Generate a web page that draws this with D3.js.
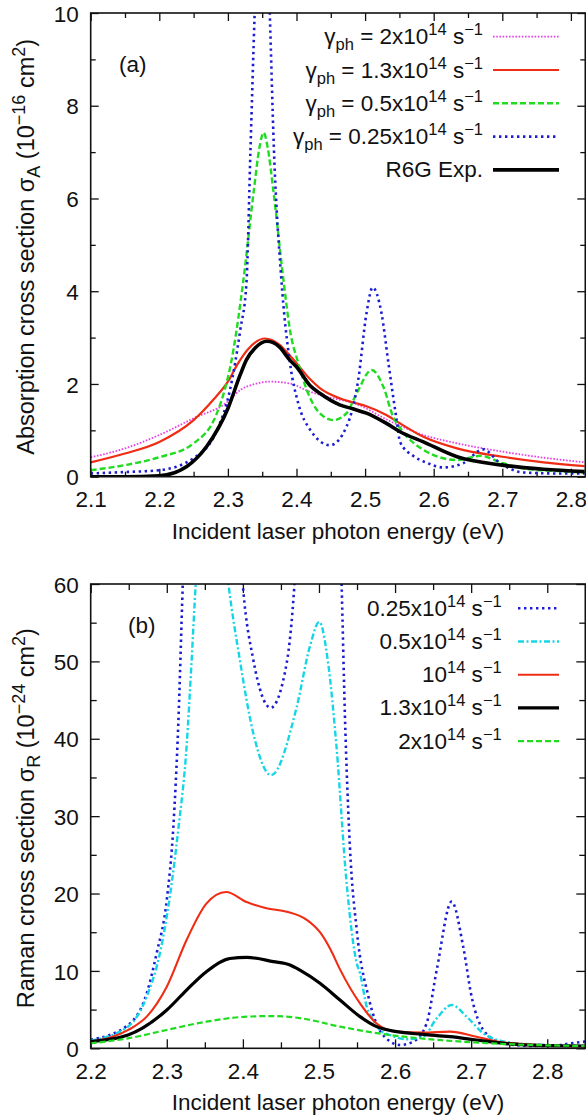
<!DOCTYPE html>
<html>
<head>
<meta charset="utf-8">
<script src="https://cdn.jsdelivr.net/npm/d3@7"></script>
<style>
  html, body { margin: 0; padding: 0; background: #fff; }
  svg { display: block; }
  text { font-family: "Liberation Sans", Arial, Helvetica, sans-serif; font-size: 22.5px; fill: #111; }
</style>
</head>
<body>
<svg id="fig" width="586" height="1119"></svg>
<script>
// ---------- Panel (a): absorption cross section (10^-16 cm^2) vs photon energy (eV) ----------
const absGamma2 = [[2.10,0.42],[2.15,0.61],[2.20,0.90],[2.25,1.26],[2.30,1.62],[2.318,1.87],[2.337,1.99],
  [2.361,2.05],[2.39,2.01],[2.42,1.83],[2.44,1.74],[2.49,1.55],[2.536,1.20],[2.585,0.90],[2.634,0.72],
  [2.70,0.54],[2.76,0.41],[2.82,0.31]];
const absGamma13 = [[2.10,0.31],[2.15,0.50],[2.20,0.75],[2.25,1.22],[2.28,1.68],[2.30,2.05],[2.315,2.45],
  [2.33,2.76],[2.354,2.98],[2.375,2.85],[2.39,2.62],[2.40,2.45],[2.42,2.10],[2.434,1.91],[2.463,1.69],
  [2.483,1.60],[2.502,1.52],[2.531,1.33],[2.551,1.15],[2.585,0.86],[2.634,0.61],[2.70,0.43],
  [2.76,0.31],[2.82,0.23]];
const absGamma05 = [[2.10,0.14],[2.15,0.25],[2.20,0.42],[2.25,0.72],[2.284,1.37],[2.308,2.73],[2.322,4.17],
  [2.338,6.2],[2.346,7.1],[2.352,7.42],[2.358,7.1],[2.366,6.2],[2.381,4.24],[2.3905,3.16],[2.4026,2.45],
  [2.415,1.87],[2.432,1.40],[2.4537,1.22],[2.473,1.37],[2.4878,1.80],[2.5096,2.30],[2.5266,1.94],
  [2.541,1.29],[2.551,1.05],[2.585,0.58],[2.634,0.36],[2.6675,0.45],[2.701,0.29],[2.73,0.18],
  [2.78,0.12],[2.82,0.09]];
const absGamma025 = [[2.10,0.07],[2.15,0.10],[2.20,0.14],[2.25,0.40],[2.284,1.0],[2.303,1.87],[2.318,3.16],
  [2.327,4.17],[2.333,7.1],[2.339,10.0],[2.345,12.5],[2.35,13.5],[2.355,12.5],[2.361,10.0],[2.367,7.1],
  [2.378,4.24],[2.3905,2.45],[2.4026,1.58],[2.42,1.01],[2.449,0.68],[2.473,1.08],[2.490,2.09],
  [2.502,3.52],[2.511,4.08],[2.524,3.52],[2.534,2.45],[2.546,1.22],[2.551,0.75],[2.57,0.45],
  [2.59,0.30],[2.614,0.20],[2.643,0.29],[2.672,0.59],[2.697,0.29],[2.731,0.09],[2.78,0.07],[2.82,0.07]];
const absR6G = [[2.10,0.0],[2.15,0.0],[2.20,0.02],[2.24,0.22],[2.269,0.65],[2.30,1.47],[2.318,2.20],
  [2.327,2.52],[2.34,2.78],[2.357,2.92],[2.375,2.80],[2.39,2.52],[2.40,2.37],[2.42,1.96],[2.434,1.80],
  [2.463,1.55],[2.483,1.46],[2.502,1.37],[2.531,1.15],[2.551,0.97],[2.585,0.75],[2.634,0.43],
  [2.70,0.25],[2.76,0.16],[2.82,0.11]];

// ---------- Panel (b): Raman cross section (10^-24 cm^2) vs photon energy (eV) ----------
const ramGamma025 = [[2.20,1.1],[2.249,3.0],[2.2736,7.1],[2.2867,12.3],[2.30,19.2],[2.3086,28.6],[2.315,41.6],
  [2.321,60],[2.33,85],[2.345,110],[2.36,115],[2.375,100],[2.39,75],[2.4005,59.2],[2.4137,50.2],
  [2.4365,44.0],[2.4576,49.8],[2.4676,59.7],[2.48,85],[2.50,100],[2.52,85],[2.5298,59.7],[2.534,43.3],
  [2.5407,26.0],[2.5496,15.3],[2.565,6.67],[2.582,2.0],[2.6065,0.43],[2.624,0.86],[2.6415,3.23],
  [2.6547,10.1],[2.6744,18.95],[2.6896,13.1],[2.7006,6.67],[2.716,2.37],[2.742,0.64],[2.78,0.3],
  [2.81,0.35],[2.83,0.64],[2.85,0.86]];
const ramGamma05 = [[2.20,1.0],[2.249,2.8],[2.2736,6.67],[2.291,12.3],[2.304,19.6],[2.315,28.2],[2.326,39.0],
  [2.3327,50.2],[2.338,59.9],[2.35,70],[2.36,73],[2.37,70],[2.381,60],[2.396,50.2],[2.4137,40.7],
  [2.437,35.3],[2.4707,44.1],[2.488,51.9],[2.5004,55.1],[2.512,49.8],[2.523,39.0],[2.536,21.7],
  [2.5496,11.0],[2.5539,9.7],[2.5627,5.38],[2.5713,3.66],[2.58,2.37],[2.593,1.72],[2.615,1.16],
  [2.637,1.5],[2.6547,3.87],[2.6744,5.6],[2.694,4.09],[2.716,1.94],[2.742,0.9],[2.78,0.5],[2.85,0.3]];
const ramGamma1 = [[2.20,0.86],[2.2494,2.37],[2.2736,4.09],[2.30,7.96],[2.326,14.0],[2.352,18.7],[2.378,20.2],
  [2.405,18.9],[2.431,18.1],[2.4576,17.65],[2.484,16.6],[2.5013,15.0],[2.515,12.8],[2.5276,10.2],
  [2.5539,5.8],[2.5758,3.2],[2.602,2.15],[2.637,2.02],[2.672,2.15],[2.707,1.5],[2.742,0.77],
  [2.80,0.4],[2.85,0.2]];
const ramGamma13 = [[2.20,0.86],[2.249,1.72],[2.30,4.95],[2.326,7.53],[2.352,9.9],[2.383,11.6],[2.405,11.75],
  [2.44,11.2],[2.4619,10.77],[2.475,10.1],[2.5013,8.4],[2.5276,6.24],[2.5539,4.09],[2.5758,2.8],
  [2.602,2.15],[2.637,1.8],[2.672,1.5],[2.707,1.07],[2.742,0.64],[2.80,0.35],[2.85,0.3]];
const ramGamma2 = [[2.20,0.64],[2.249,1.29],[2.30,2.37],[2.352,3.44],[2.405,4.09],[2.44,4.17],[2.475,3.9],
  [2.5276,2.8],[2.593,1.72],[2.659,1.07],[2.725,0.64],[2.85,0.3]];

// ---------- Tick values ----------
const xMajorA = [2.1, 2.2, 2.3, 2.4, 2.5, 2.6, 2.7, 2.8];
const xMinorA = [2.15, 2.25, 2.35, 2.45, 2.55, 2.65, 2.75];
const yMajorA = [0, 2, 4, 6, 8, 10];
const yMinorA = [1, 3, 5, 7, 9];
const xMajorB = [2.2, 2.3, 2.4, 2.5, 2.6, 2.7, 2.8];
const xMinorB = [2.25, 2.35, 2.45, 2.55, 2.65, 2.75];
const yMajorB = [0, 10, 20, 30, 40, 50, 60];
const yMinorB = [5, 15, 25, 35, 45, 55];

// ---------- Line styles ----------
const styles = {
  magenta: { stroke: "#e840e8", width: 1.8, dash: "1.6,1.6" },
  red:     { stroke: "#f02c14", width: 2.2, dash: null },
  green:   { stroke: "#20dc20", width: 2.4, dash: "6,3" },
  blue:    { stroke: "#1c1cd2", width: 2.6, dash: "2.4,3.6" },
  black:   { stroke: "#000000", width: 3.6, dash: null },
  cyan:    { stroke: "#16d6e6", width: 2.4, dash: "6,2.5,2,2.5" },
  red2:    { stroke: "#f02c14", width: 2.1, dash: null },
  black2:  { stroke: "#000000", width: 3.2, dash: null },
  green2:  { stroke: "#20dc20", width: 2.2, dash: "6,3" }
};

const svg = d3.select("#fig");
const defs = svg.append("defs");

// Writes a run of normal / subscript / superscript pieces into a text element.
function richText(textSel, parts, small) {
  let cur = 0;
  parts.forEach(([t, mode]) => {
    const target = mode === "sub" ? 6 : mode === "sup" ? -9 : 0;
    const ts = textSel.append("tspan").text(t).attr("dy", target - cur);
    if (mode !== "n") ts.style("font-size", (small || 16.5) + "px");
    cur = target;
  });
}

function drawPanel(cfg) {
  const g = svg.append("g");
  const x = d3.scaleLinear().domain(cfg.xDomain).range([cfg.left, cfg.right]);
  const y = d3.scaleLinear().domain(cfg.yDomain).range([cfg.bottom, cfg.top]);

  defs.append("clipPath").attr("id", cfg.id + "-clip")
    .append("rect").attr("x", cfg.left).attr("y", cfg.top)
    .attr("width", cfg.right - cfg.left).attr("height", cfg.bottom - cfg.top);

  const tickStyle = sel => {
    sel.attr("font-size", null).attr("font-family", null).attr("color", "#111");
    sel.select(".domain").remove();
    sel.selectAll(".tick line").attr("stroke-width", 1.3);
  };

  // bottom axis (labelled) + top axis mirror
  [[cfg.xMajor, cfg.major], [cfg.xMinor, cfg.minor]].forEach(([vals, len], i) => {
    const b = g.append("g").attr("transform", `translate(0,${cfg.bottom})`)
      .call(d3.axisBottom(x).tickValues(vals).tickSize(-len)
        .tickFormat(i === 0 ? d3.format(".1f") : () => ""));
    tickStyle(b);
    b.selectAll("text").attr("y", 30.5).attr("dy", null);
    const t = g.append("g").attr("transform", `translate(0,${cfg.top})`)
      .call(d3.axisTop(x).tickValues(vals).tickSize(-len).tickFormat(() => ""));
    tickStyle(t);
  });
  // left axis (labelled) + right axis mirror
  [[cfg.yMajor, cfg.major], [cfg.yMinor, cfg.minor]].forEach(([vals, len], i) => {
    const l = g.append("g").attr("transform", `translate(${cfg.left},0)`)
      .call(d3.axisLeft(y).tickValues(vals).tickSize(-len)
        .tickFormat(i === 0 ? d3.format("d") : () => ""));
    tickStyle(l);
    l.selectAll("text").attr("x", -12).attr("dy", "0.36em");
    const r = g.append("g").attr("transform", `translate(${cfg.right},0)`)
      .call(d3.axisRight(y).tickValues(vals).tickSize(-len).tickFormat(() => ""));
    tickStyle(r);
  });

  // curves
  const line = d3.line().x(d => x(d[0])).y(d => y(d[1])).curve(d3.curveMonotoneX);
  const curves = g.append("g").attr("clip-path", `url(#${cfg.id}-clip)`);
  cfg.series.forEach(s => {
    const st = styles[s.style];
    curves.append("path").attr("d", line(s.data))
      .attr("fill", "none").attr("stroke", st.stroke).attr("stroke-width", st.width)
      .attr("stroke-dasharray", st.dash).attr("stroke-linejoin", "round");
  });

  // frame
  g.append("rect").attr("x", cfg.left).attr("y", cfg.top)
    .attr("width", cfg.right - cfg.left).attr("height", cfg.bottom - cfg.top)
    .attr("fill", "none").attr("stroke", "#111").attr("stroke-width", 1.6);

  // legend
  cfg.series.forEach((s, i) => {
    const st = styles[s.style];
    const yy = cfg.legend.y0 + i * cfg.legend.dy;
    const t = g.append("text").attr("x", cfg.legend.textX).attr("y", yy + 7.5)
      .attr("text-anchor", "end");
    richText(t, s.label);
    g.append("line").attr("x1", cfg.legend.lineX0).attr("x2", cfg.legend.lineX1)
      .attr("y1", yy).attr("y2", yy)
      .attr("stroke", st.stroke).attr("stroke-width", st.width).attr("stroke-dasharray", st.dash);
  });

  // panel tag
  g.append("text").attr("x", cfg.tag.x).attr("y", cfg.tag.y).text(cfg.tag.text);

  // axis titles
  g.append("text").attr("x", (cfg.left + cfg.right) / 2).attr("y", cfg.bottom + 62)
    .attr("text-anchor", "middle").text(cfg.xTitle);
  const yt = g.append("text").attr("text-anchor", "middle").style("font-size", "23.5px")
    .attr("transform", `translate(34,${(cfg.top + cfg.bottom) / 2 + 2}) rotate(-90)`);
  richText(yt, cfg.yTitle, 18);
}

drawPanel({
  id: "pa", left: 90.7, right: 585.3, top: 13, bottom: 476.7,
  xDomain: [2.1, 2.821], yDomain: [0, 10],
  xMajor: xMajorA, xMinor: xMinorA, yMajor: yMajorA, yMinor: yMinorA, major: 8, minor: 5,
  series: [
    { data: absGamma2, style: "magenta",
      label: [["γ","n"],["ph","sub"],[" = 2x10","n"],["14","sup"],[" s","n"],["−1","sup"]] },
    { data: absGamma13, style: "red",
      label: [["γ","n"],["ph","sub"],[" = 1.3x10","n"],["14","sup"],[" s","n"],["−1","sup"]] },
    { data: absGamma05, style: "green",
      label: [["γ","n"],["ph","sub"],[" = 0.5x10","n"],["14","sup"],[" s","n"],["−1","sup"]] },
    { data: absGamma025, style: "blue",
      label: [["γ","n"],["ph","sub"],[" = 0.25x10","n"],["14","sup"],[" s","n"],["−1","sup"]] },
    { data: absR6G, style: "black", label: [["R6G Exp.","n"]] }
  ],
  legend: { textX: 483, lineX0: 493, lineX1: 559, y0: 36.7, dy: 33.3 },
  tag: { text: "(a)", x: 119, y: 72 },
  xTitle: "Incident laser photon energy (eV)",
  yTitle: [["Absorption cross section σ","n"],["A","sub"],[" (10","n"],["−16","sup"],[" cm","n"],["2","sup"],[")","n"]]
});

drawPanel({
  id: "pb", left: 90.7, right: 585.3, top: 584, bottom: 1048.3,
  xDomain: [2.2, 2.85], yDomain: [0, 60],
  xMajor: xMajorB, xMinor: xMinorB, yMajor: yMajorB, yMinor: yMinorB, major: 9, minor: 6,
  series: [
    { data: ramGamma025, style: "blue",
      label: [["0.25x10","n"],["14","sup"],[" s","n"],["−1","sup"]] },
    { data: ramGamma05, style: "cyan",
      label: [["0.5x10","n"],["14","sup"],[" s","n"],["−1","sup"]] },
    { data: ramGamma1, style: "red2",
      label: [["10","n"],["14","sup"],[" s","n"],["−1","sup"]] },
    { data: ramGamma13, style: "black2",
      label: [["1.3x10","n"],["14","sup"],[" s","n"],["−1","sup"]] },
    { data: ramGamma2, style: "green2",
      label: [["2x10","n"],["14","sup"],[" s","n"],["−1","sup"]] }
  ],
  legend: { textX: 501.7, lineX0: 518, lineX1: 559, y0: 608.3, dy: 33.2 },
  tag: { text: "(b)", x: 128, y: 633 },
  xTitle: "Incident laser photon energy (eV)",
  yTitle: [["Raman cross section σ","n"],["R","sub"],[" (10","n"],["−24","sup"],[" cm","n"],["2","sup"],[")","n"]]
});
</script>
</body>
</html>
